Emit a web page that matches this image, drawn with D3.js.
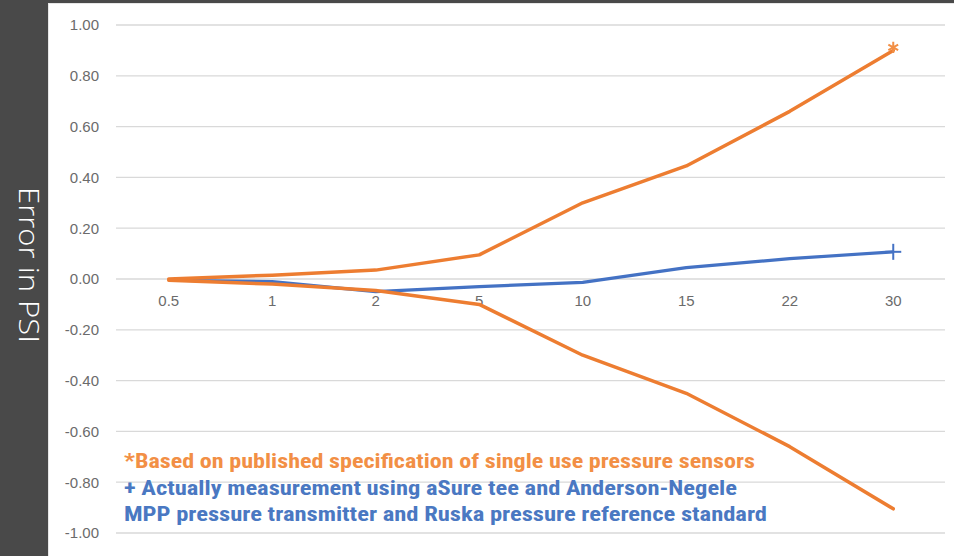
<!DOCTYPE html>
<html><head><meta charset="utf-8">
<script src="https://cdn.jsdelivr.net/npm/d3@7"></script>
<style>
html,body{margin:0;padding:0;background:#fff;}
svg{display:block;}
</style></head>
<body>
<svg id="chart" width="954" height="556"></svg>
<script>
const categories = ["0.5","1","2","5","10","15","22","30"];
const specUpper = [0.00, 0.015, 0.035, 0.095, 0.30, 0.445, 0.66, 0.90];
const specLower = [-0.005, -0.02, -0.045, -0.10, -0.30, -0.45, -0.66, -0.905];
const measured = [-0.005, -0.01, -0.05, -0.03, -0.013, 0.045, 0.08, 0.107];
const yTicks = [1.0, 0.8, 0.6, 0.4, 0.2, 0.0, -0.2, -0.4, -0.6, -0.8, -1.0];
const yTitle = "Error in PSI";
const notes = [
  {text: "*Based on published specification of single use pressure sensors", color: "#F28F45", width: 631},
  {text: "+ Actually measurement using aSure tee and Anderson-Negele", color: "#4A78C2", width: 613},
  {text: "MPP pressure transmitter and Ruska pressure reference standard", color: "#4A78C2", width: 643}
];

const svg = d3.select("#chart");
svg.append("rect").attr("x",0).attr("y",0).attr("width",954).attr("height",556).attr("fill","#fff");
svg.append("rect").attr("x",0).attr("y",0).attr("width",48).attr("height",556).attr("fill","#494949");
svg.append("rect").attr("x",0).attr("y",0).attr("width",954).attr("height",3).attr("fill","#494949");
svg.append("line").attr("x1",48).attr("x2",954).attr("y1",3.5).attr("y2",3.5).attr("stroke","#e6e6e6").attr("stroke-width",1);
svg.append("line").attr("x1",48.5).attr("x2",48.5).attr("y1",3).attr("y2",556).attr("stroke","#e6e6e6").attr("stroke-width",1);

const x = d3.scaleBand().domain(categories).range([117, 945]);
const y = d3.scaleLinear().domain([-1, 1]).range([533, 25]);
const xc = c => x(c) + x.bandwidth()/2;

svg.append("g").selectAll("line").data(yTicks).join("line")
  .attr("x1",116).attr("x2",945)
  .attr("y1",d=>y(d)).attr("y2",d=>y(d))
  .attr("stroke","#d9d9d9").attr("stroke-width",1.3);

const tickFont = "'Liberation Sans', Arial, sans-serif";
const yAxis = d3.axisLeft(y).tickValues(yTicks).tickSize(0).tickPadding(0);
const ya = svg.append("g").attr("transform","translate(99,0)").call(yAxis);
ya.select(".domain").remove();
ya.selectAll("text").attr("fill","#6b6b6b").style("font-family",tickFont).style("font-size","15px")
  .text(d => d3.format(".2f")(d).replace("−","-"));

const xAxis = d3.axisBottom(x).tickSize(0).tickPadding(0);
const xa = svg.append("g").attr("transform",`translate(0,${y(0)+16})`).call(xAxis);
xa.select(".domain").remove();
xa.selectAll("text").attr("fill","#6b6b6b").style("font-family",tickFont).style("font-size","15px");

const line = d3.line().x((d,i)=>xc(categories[i])).y(d=>y(d));
svg.append("path").datum(measured).attr("d",line).attr("fill","none").attr("stroke","#4472C4").attr("stroke-width",3.2).attr("stroke-linejoin","round");
svg.append("path").datum(specUpper).attr("d",line).attr("fill","none").attr("stroke","#ED7D31").attr("stroke-width",3.5).attr("stroke-linejoin","round").attr("stroke-linecap","round");
svg.append("path").datum(specLower).attr("d",line).attr("fill","none").attr("stroke","#ED7D31").attr("stroke-width",3.5).attr("stroke-linejoin","round").attr("stroke-linecap","round");

const last = categories.length-1;
const sx = xc(categories[last]), sy = y(specUpper[last]);
svg.append("path").attr("d", d3.symbol().type(d3.symbolAsterisk).size(90)())
  .attr("transform",`translate(${sx},${sy-3})`).attr("fill","none").attr("stroke","#F28F45").attr("stroke-width",2);
const mx = xc(categories[last]), my = y(measured[last]);
svg.append("line").attr("x1",mx-8).attr("x2",mx+8).attr("y1",my).attr("y2",my).attr("stroke","#4472C4").attr("stroke-width",2);
svg.append("line").attr("x1",mx).attr("x2",mx).attr("y1",my-8).attr("y2",my+8).attr("stroke","#4472C4").attr("stroke-width",2);

svg.append("g").selectAll("text").data(notes).join("text")
  .attr("x",124).attr("y",(d,i)=>468 + i*26.5)
  .attr("fill",d=>d.color)
  .style("font-family","'Liberation Sans Narrow','Roboto Condensed','Open Sans',sans-serif")
  .style("font-weight","bold").style("font-size","20px")
  .attr("textLength",d=>d.width).attr("lengthAdjust","spacingAndGlyphs")
  .text(d=>d.text);

svg.append("text").attr("transform","translate(19,265) rotate(90)")
  .attr("text-anchor","middle")
  .attr("fill","#fff")
  .style("font-family","'Open Sans',sans-serif").style("font-weight","300").style("font-size","27px")
  .attr("textLength",156).attr("lengthAdjust","spacingAndGlyphs")
  .text(yTitle);
</script>
</body></html>
